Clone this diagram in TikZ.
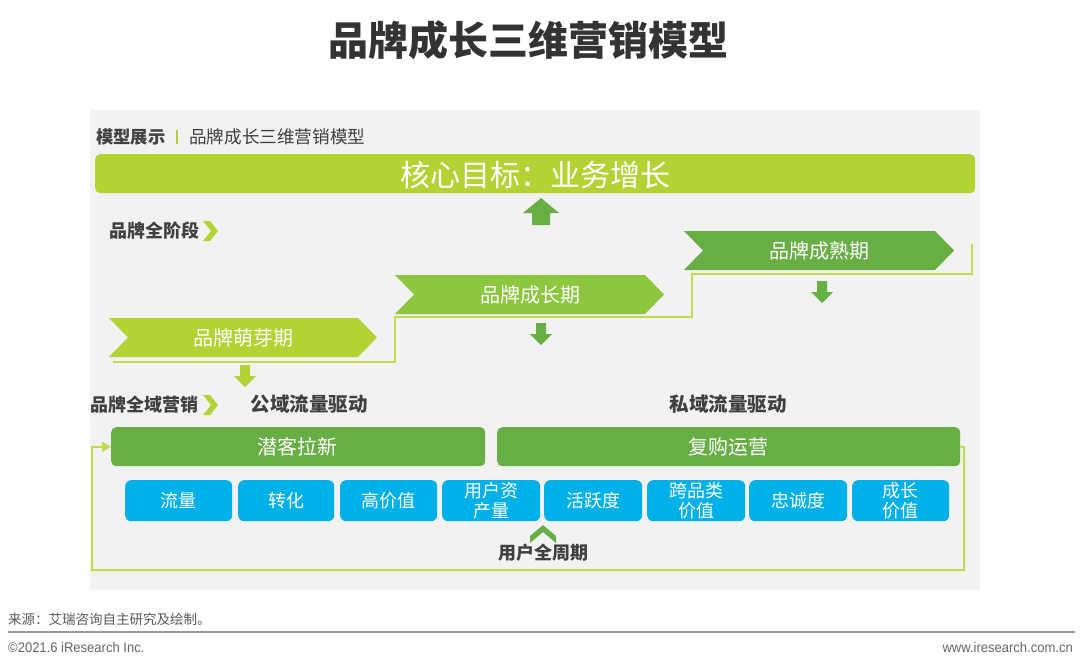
\documentclass[tikz,border=0pt]{standalone}
\usepackage{fontspec}
\setmainfont{Noto Sans CJK SC}
\newfontfamily\lat{Liberation Sans}
\usetikzlibrary{arrows.meta}
\definecolor{lime}{HTML}{B3D334}
\definecolor{midg}{HTML}{8DC63F}
\definecolor{grn}{HTML}{67AE45}
\definecolor{blu}{HTML}{00B0E8}
\definecolor{lineg}{HTML}{C3DA4E}
\definecolor{panel}{HTML}{F2F2F2}
\definecolor{lab}{HTML}{404040}
\newcommand{\fs}[1]{\fontsize{#1}{#1}\selectfont}
\newcommand{\fsb}[2]{\fontsize{#1}{#2}\selectfont}
\newcommand{\downarr}[3]{\fill[#3] ({#1-5},#2) -- ({#1+5},#2) -- ({#1+5},{#2+11}) -- ({#1+11},{#2+11}) -- (#1,{#2+22}) -- ({#1-11},{#2+11}) -- ({#1-5},{#2+11}) -- cycle;}
\newcommand{\chev}[2]{\fill[lime] (#1,{#2-10}) -- ({#1+7},{#2-10}) -- ({#1+15},#2) -- ({#1+7},{#2+10}) -- (#1,{#2+10}) -- ({#1+8},#2) -- cycle;}
\newcommand{\phaseshape}[6]{\fill[#6] (#1,#2) -- (#4,#2) -- (#5,{(#2+#3)/2}) -- (#4,#3) -- (#1,#3) -- ({#1+19},{(#2+#3)/2}) -- cycle;}
\tikzset{
  bar/.style={fill=grn, rounded corners=5pt, text=white, font=\fs{20}, inner sep=0pt},
  kpi/.style={fill=blu, rounded corners=6pt, text=white, font=\fsb{18}{20.5}, inner sep=0pt, align=center, minimum width=97pt, minimum height=41pt},
  phasetxt/.style={text=white, font=\fs{20}, inner sep=0pt},
  lbl/.style={text=lab, font=\bfseries\fs{18}, inner sep=0pt},
  steplne/.style={lineg, line width=2pt},
}
\begin{document}
\begin{tikzpicture}[x=1pt,y=-1pt]
\useasboundingbox[fill=white] (0,0) rectangle (1080,667);
% title
\node[font=\bfseries\fs{40}, text=black!80, inner sep=0pt] (title) at (528,40) {品牌成长三维营销模型};
% panel
\fill[panel] (90,110) rectangle (980,590);
% header
\node[font=\bfseries\fs{17.3}, text=lab, anchor=west, inner sep=0pt] (hd1) at (96,137) {模型展示};
\fill[lime] (176,130) rectangle (178,144);
\node[font=\fs{17.6}, text=lab, anchor=west, inner sep=0pt] (hd2) at (189,137) {品牌成长三维营销模型};
% core bar
\node[fill=lime, rounded corners=5pt, minimum width=880pt, minimum height=39pt, inner sep=0pt, anchor=north west] (core) at (95,154) {};
\node[text=white, font=\fs{30}, inner sep=0pt] (coretxt) at (535,175) {核心目标：业务增长};
% up arrow
\fill[grn] (541,198) -- (559,213) -- (550,213) -- (550,225) -- (532,225) -- (532,213) -- (523,213) -- cycle;
% labels
\node[lbl, anchor=west] (stageall) at (109,231) {品牌全阶段};
\chev{203}{231}
\node[lbl, anchor=west] (mkt) at (90,405) {品牌全域营销};
\chev{203}{405}
\node[lbl, font=\bfseries\fs{19.5}] (pub) at (309,404) {公域流量驱动};
\node[lbl, font=\bfseries\fs{19.5}] (priv) at (728,404) {私域流量驱动};
% step line
\draw[steplne] (113,362) -- (395,362) -- (395,317) -- (692,317) -- (692,274) -- (972,274) -- (972,244);
% phases
\phaseshape{109}{318}{357}{358}{377}{lime}
\node[phasetxt] (p1) at (243,338) {品牌萌芽期};
\phaseshape{395}{275}{314}{645}{664}{midg}
\node[phasetxt] (p2) at (530,295) {品牌成长期};
\phaseshape{684}{231}{270}{935}{954}{grn}
\node[phasetxt] (p3) at (819,251) {品牌成熟期};
% down arrows
\downarr{245}{365}{lime}
\downarr{541}{323}{grn}
\downarr{822}{281}{grn}
% green bars
\node[bar, minimum width=374pt, minimum height=39pt, anchor=north west] (acq) at (111,427) {};
\node[text=white, font=\fs{20}, inner sep=0pt] (acqt) at (297,447) {潜客拉新};
\node[bar, minimum width=463pt, minimum height=39pt, anchor=north west] (rep) at (497,427) {};
\node[text=white, font=\fs{20}, inner sep=0pt] (rept) at (728,447) {复购运营};
% KPI boxes
\node[kpi, minimum width=107pt, anchor=north west] (k1) at (125,480) {流量};
\node[kpi, minimum width=96pt, anchor=north west] (k2) at (238,480) {转化};
\node[kpi, minimum width=97pt, anchor=north west] (k3) at (340,480) {高价值};
\node[kpi, minimum width=98pt, anchor=north west] (k4) at (442,480) {用户资\\产量};
\node[kpi, minimum width=98pt, anchor=north west] (k5) at (544,480) {活跃度};
\node[kpi, minimum width=98pt, anchor=north west] (k6) at (647,480) {跨品类\\价值};
\node[kpi, minimum width=98pt, anchor=north west] (k7) at (749,480) {忠诚度};
\node[kpi, minimum width=97pt, anchor=north west] (k8) at (852,480) {成长\\价值};
% user lifecycle
\fill[grn] (543,525) -- (556,536) -- (556,543) -- (543,532) -- (530,543) -- (530,536) -- cycle;
\node[lbl] (life) at (543,553) {用户全周期};
% loop line
\coordinate (lr) at (964,570);
\coordinate (ll) at (92,570);
\draw[steplne, -{Triangle[length=9pt,width=10pt]}] (rep.east) -- (964,447) -- (lr) -- (ll) -- (92,447) -- (acq.west);
% footer
\node[font=\fs{13.5}, text=black!65, anchor=west, inner sep=0pt] (src) at (8,619) {来源：艾瑞咨询自主研究及绘制。};
\draw[black!40, line width=1.5pt] (8,632) -- (1075,632);
\node[font=\lat\fs{14}, text=black!60, anchor=west, inner sep=0pt, xscale=0.93] (copy) at (8,647) {©2021.6 iResearch Inc.};
\node[font=\lat\fs{14}, text=black!60, anchor=east, inner sep=0pt, xscale=0.93] (web) at (1073,647) {www.iresearch.com.cn};
\end{tikzpicture}
\end{document}
